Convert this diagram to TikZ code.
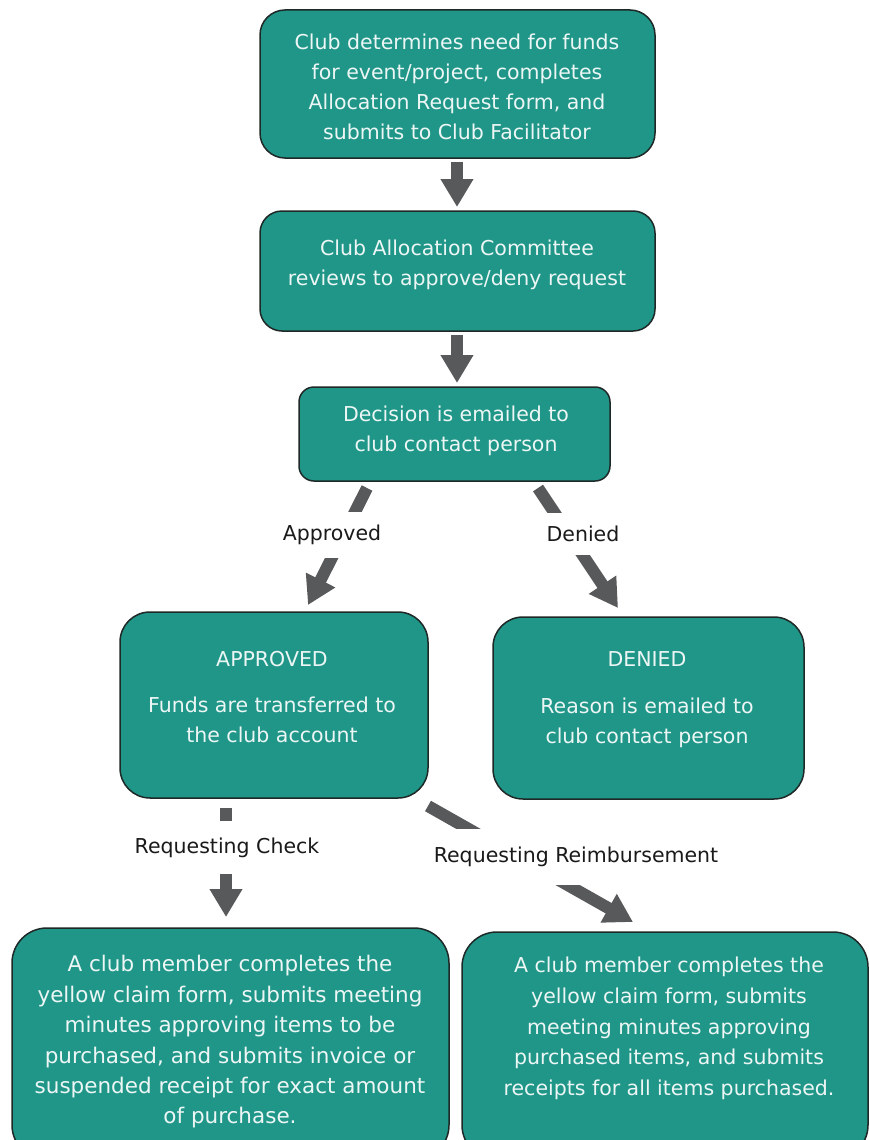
\documentclass[tikz,border=0pt]{standalone}
\usepackage{fontspec}
\setmainfont{DejaVu Sans}
\usetikzlibrary{arrows.meta}
\definecolor{tealfill}{RGB}{32,150,137}
\definecolor{edgecol}{RGB}{30,40,38}
\definecolor{boxtext}{RGB}{236,246,244}
\definecolor{arrowgray}{RGB}{88,89,91}
\definecolor{labeltext}{RGB}{26,26,26}
\tikzset{
  flowbox/.style={draw=edgecol, line width=1.5pt, fill=tealfill, inner sep=0pt},
  boxtxt/.style={text=boxtext, align=center, inner sep=0pt, font=\fontsize{20.5}{30}\selectfont},
  flowarrow/.style={draw=arrowgray, line width=12pt, -{Triangle[width=31pt,length=28pt]}},
  arrowlabel/.style={fill=white, text=labeltext, inner xsep=4pt, inner ysep=0pt, font=\fontsize{20.5}{24}\selectfont}
}
\begin{document}
\begin{tikzpicture}[x=1pt,y=-1pt]
\useasboundingbox (0,0) rectangle (869,1140);
\clip (0,0) rectangle (869,1140);
\fill[white] (0,0) rectangle (869,1140);

% boxes
\node[flowbox, rounded corners=25pt, minimum width=395pt, minimum height=148pt] (b1) at (457.5,84) {};
\node[flowbox, rounded corners=22pt, minimum width=395pt, minimum height=120pt] (b2) at (457.5,271) {};
\node[flowbox, rounded corners=15pt, minimum width=311pt, minimum height=94pt] (b3) at (454.5,434) {};
\node[flowbox, rounded corners=30pt, minimum width=308pt, minimum height=186pt] (bapp) at (274,705) {};
\node[flowbox, rounded corners=30pt, minimum width=311pt, minimum height=182pt] (bden) at (648.5,708) {};
\node[flowbox, rounded corners=35pt, minimum width=437pt, minimum height=232pt] (bchk) at (230.5,1044) {};
\node[flowbox, rounded corners=35pt, minimum width=406pt, minimum height=228pt] (brei) at (665,1046) {};

% texts
\node[boxtxt] (t1) at (457,87) {Club determines need for funds\\for event/project, completes\\Allocation Request form, and\\submits to Club Facilitator};
\node[boxtxt] (t2) at (457,264.5) {Club Allocation Committee\\reviews to approve/deny request};
\node[boxtxt] (t3) at (456,431) {Decision is emailed to\\club contact person};
\node[boxtxt] (tapp) at (272,697.5) {APPROVED\\[16pt]Funds are transferred to\\the club account};
\node[boxtxt] (tden) at (647,699.5) {DENIED\\[17pt]Reason is emailed to\\club contact person};
\node[boxtxt, font=\fontsize{21.5}{30.4}\selectfont] (tchk) at (230,1042) {A club member completes the\\yellow claim form, submits meeting\\minutes approving items to be\\purchased, and submits invoice or\\suspended receipt for exact amount\\of purchase.};
\node[boxtxt, font=\fontsize{20.5}{30.8}\selectfont] (trei) at (669,1028.5) {A club member completes the\\yellow claim form, submits\\meeting minutes approving\\purchased items, and submits\\receipts for all items purchased.};

% arrow end points
\coordinate (a1s) at (457,162);
\coordinate (a1e) at (457,207);
\coordinate (a2s) at (457,335);
\coordinate (a2e) at (457,383);
\coordinate (aps) at (367,488);
\coordinate (ape) at (308,605);
\coordinate (des) at (538,488);
\coordinate (dee) at (618,608);
\coordinate (chs) at (226,808);
\coordinate (che) at (226,917);
\coordinate (res) at (428,806);
\coordinate (ree) at (633,922);

% arrows
\draw[flowarrow] (a1s) -- (a1e);
\draw[flowarrow] (a2s) -- (a2e);
\draw[flowarrow] (aps) -- (ape);
\draw[flowarrow] (des) -- (dee);
\draw[flowarrow] (chs) -- (che);
\draw[flowarrow] (res) -- (ree);

% labels (break the arrows)
\node[arrowlabel, minimum height=46pt] (lapp) at (332,535) {Approved};
\node[arrowlabel, minimum height=42pt] (lden) at (583,534) {Denied};
\node[arrowlabel, minimum height=53pt] (lchk) at (227,847.5) {Requesting Check};
\node[arrowlabel, minimum height=56pt] (lrei) at (576,857) {Requesting Reimbursement};
\end{tikzpicture}
\end{document}
